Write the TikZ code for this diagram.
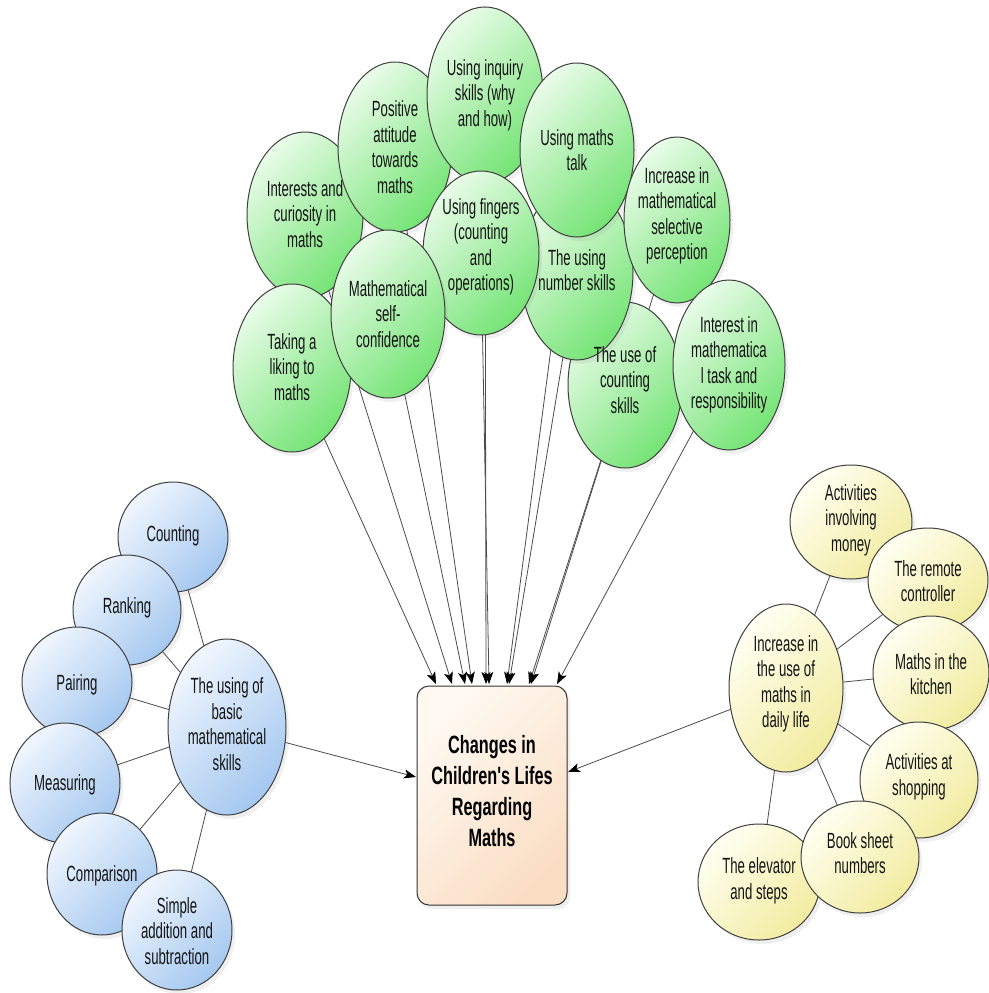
\documentclass[tikz,border=0pt]{standalone}
\usepackage{fontspec}
\setmainfont{Liberation Sans}[FakeStretch=0.6]
\newfontfamily\titlefont{Liberation Sans}[FakeStretch=0.65]
\usetikzlibrary{shapes.geometric,arrows.meta,shadows}
\pgfdeclarelayer{bg}
\pgfsetlayers{bg,main}
\definecolor{G1}{RGB}{232,252,232}
\definecolor{G3}{RGB}{160,240,160}
\definecolor{G2}{RGB}{118,228,118}
\definecolor{B1}{RGB}{240,246,254}
\definecolor{B3}{RGB}{205,224,248}
\definecolor{B2}{RGB}{165,200,240}
\definecolor{Y1}{RGB}{255,255,242}
\definecolor{Y3}{RGB}{252,250,205}
\definecolor{Y2}{RGB}{242,236,160}
\definecolor{O1}{RGB}{255,249,242}
\definecolor{O2}{RGB}{250,222,196}
\tikzset{
  bub/.style={ellipse, draw=black!75, line width=1pt, inner sep=0pt,
    drop shadow={shadow xshift=3pt, shadow yshift=-4pt, opacity=0.12}},
  esz/.style 2 args={minimum width=#1pt, minimum height=#2pt},
  gbub/.style={bub, top color=G1, middle color=G3, bottom color=G2, shading angle=45},
  bbub/.style={bub, top color=B1, middle color=B3, bottom color=B2, shading angle=45},
  ybub/.style={bub, top color=Y1, middle color=Y3, bottom color=Y2, shading angle=45},
  txt/.style={align=center, inner sep=0pt, text=black!92,
    font=\fontsize{22}{25.5}\selectfont},
  ttl/.style={align=center, inner sep=0pt, text=black,
    font=\titlefont\bfseries\fontsize{25}{31}\selectfont},
  link/.style={draw=black!70, line width=0.8pt},
  arr/.style={link, -{Stealth[length=12pt,width=9pt,inset=3pt,color=black]}}
}
\begin{document}
\begin{tikzpicture}[x=1pt,y=-1pt]
\useasboundingbox (0,0) rectangle (988,993);
\begin{pgfonlayer}{bg}
\fill[white] (0,0) rectangle (988,993);
\end{pgfonlayer}

% central box
\node[draw=black!80, line width=1pt, rounded corners=12pt, top color=O1, bottom color=O2,
  shading angle=45, minimum width=150pt, minimum height=219pt, inner sep=0pt,
  drop shadow={shadow xshift=3pt, shadow yshift=-4pt, opacity=0.12}] (box) at (492,795.5) {};
\node[ttl] (boxt) at (492,791) {Changes in\\Children's Lifes\\Regarding\\Maths};

% green nodes
\node[gbub, esz={116}{166}] (g3) at (305,215) {};
\node[gbub, esz={114}{170}] (g2) at (395,147) {};
\node[gbub, esz={116}{176}] (g1) at (485,95) {};
\node[gbub, esz={114}{166}] (g10) at (625,385) {};
\node[gbub, esz={112}{176}] (g9) at (577,272) {};
\node[gbub, esz={114}{174}] (g7) at (577,150) {};
\node[gbub, esz={116}{164}] (g6) at (481,253) {};
\node[gbub, esz={118}{168}] (g5) at (292,368) {};
\node[gbub, esz={114}{168}] (g4) at (388,314) {};
\node[gbub, esz={106}{166}] (g8) at (677,220) {};
\node[gbub, esz={112}{170}] (g11) at (729,365) {};

\node[txt] (g1t) at (485,95) {Using inquiry\\skills (why\\and how)};
\node[txt] (g2t) at (395,147) {Positive\\attitude\\towards\\maths};
\node[txt] (g3t) at (305,214) {Interests and\\curiosity in\\maths};
\node[txt] (g4t) at (388,314) {Mathematical\\self-\\confidence};
\node[txt] (g5t) at (292,367) {Taking a\\liking to\\maths};
\node[txt] (g6t) at (481,247) {Using fingers\\(counting\\and\\operations)};
\node[txt] (g7t) at (577,150) {Using maths\\talk};
\node[txt] (g8t) at (677,216) {Increase in\\mathematical\\selective\\perception};
\node[txt] (g9t) at (577,270) {The using\\number skills};
\node[txt] (g10t) at (625,380) {The use of\\counting\\skills};
\node[txt] (g11t) at (729,365) {Interest in\\mathematica\\l task and\\responsibility};

% arrow targets on top of the box
\coordinate (t1) at (436,684);
\coordinate (t2) at (452,684);
\coordinate (t3) at (465,684);
\coordinate (t4) at (472,684);
\coordinate (t5) at (486,684);
\coordinate (t6) at (489,684);
\coordinate (t7) at (507,684);
\coordinate (t8) at (509,684);
\coordinate (t9) at (529,684);
\coordinate (t10) at (531,684);
\coordinate (t11) at (557,684);
\coordinate (tl) at (416,777);
\coordinate (tr) at (568,772);

% blue nodes
\node[bbub, esz={110}{110}] (b1) at (173,537) {};
\node[bbub, esz={108}{110}] (b2) at (127,610) {};
\node[bbub, esz={110}{110}] (b3) at (77,682) {};
\node[bbub, esz={110}{120}] (b4) at (65,783) {};
\node[bbub, esz={110}{122}] (b5) at (102,874) {};
\node[bbub, esz={110}{120}] (b6) at (177,930) {};
\node[bbub, esz={118}{176}] (b0) at (227,727) {};
\node[txt] (b1t) at (173,536) {Counting};
\node[txt] (b2t) at (127,608) {Ranking};
\node[txt] (b3t) at (77,685) {Pairing};
\node[txt] (b4t) at (65,785) {Measuring};
\node[txt] (b5t) at (102,876) {Comparison};
\node[txt] (b6t) at (177,931) {Simple\\addition and\\subtraction};
\node[txt] (b0t) at (227,724) {The using of\\basic\\mathematical\\skills};

% yellow nodes
\node[ybub, esz={122}{114}] (y1) at (851,522) {};
\node[ybub, esz={120}{104}] (y2) at (928,580) {};
\node[ybub, esz={116}{114}] (y3) at (931,673) {};
\node[ybub, esz={118}{116}] (y4) at (919,780) {};
\node[ybub, esz={122}{116}] (y6) at (759,882) {};
\node[ybub, esz={118}{112}] (y5) at (860,857) {};
\node[ybub, esz={114}{168}] (y0) at (786,688) {};
\node[txt] (y1t) at (851,520) {Activities\\involving\\money};
\node[txt] (y2t) at (928,581) {The remote\\controller};
\node[txt] (y3t) at (931,674) {Maths in the\\kitchen};
\node[txt] (y4t) at (919,777) {Activities at\\shopping};
\node[txt] (y5t) at (860,853) {Book sheet\\numbers};
\node[txt] (y6t) at (759,881) {The elevator\\and steps};
\node[txt] (y0t) at (786,684) {Increase in\\the use of\\maths in\\daily life};

% connectors (behind the bubbles)
\begin{pgfonlayer}{bg}
\draw[arr] (g5.center) -- (t1);
\draw[arr] (g3.center) -- (t2);
\draw[arr] (g4.center) -- (t3);
\draw[arr] (g2.center) -- (t4);
\draw[arr] (g1.center) -- (t5);
\draw[arr] (g6.center) -- (t6);
\draw[arr] (g7.center) -- (t7);
\draw[arr] (g9.center) -- (t8);
\draw[arr] (g10.center) -- (t9);
\draw[arr] (g8.center) -- (t10);
\draw[arr] (g11.center) -- (t11);
\foreach \n in {b1,b2,b3,b4,b5,b6} \draw[link] (\n.center) -- (b0.center);
\foreach \n in {y1,y2,y3,y4,y5,y6} \draw[link] (\n.center) -- (y0.center);
\draw[arr] (b0.center) -- (tl);
\draw[arr] (y0.center) -- (tr);
\end{pgfonlayer}
\end{tikzpicture}
\end{document}
